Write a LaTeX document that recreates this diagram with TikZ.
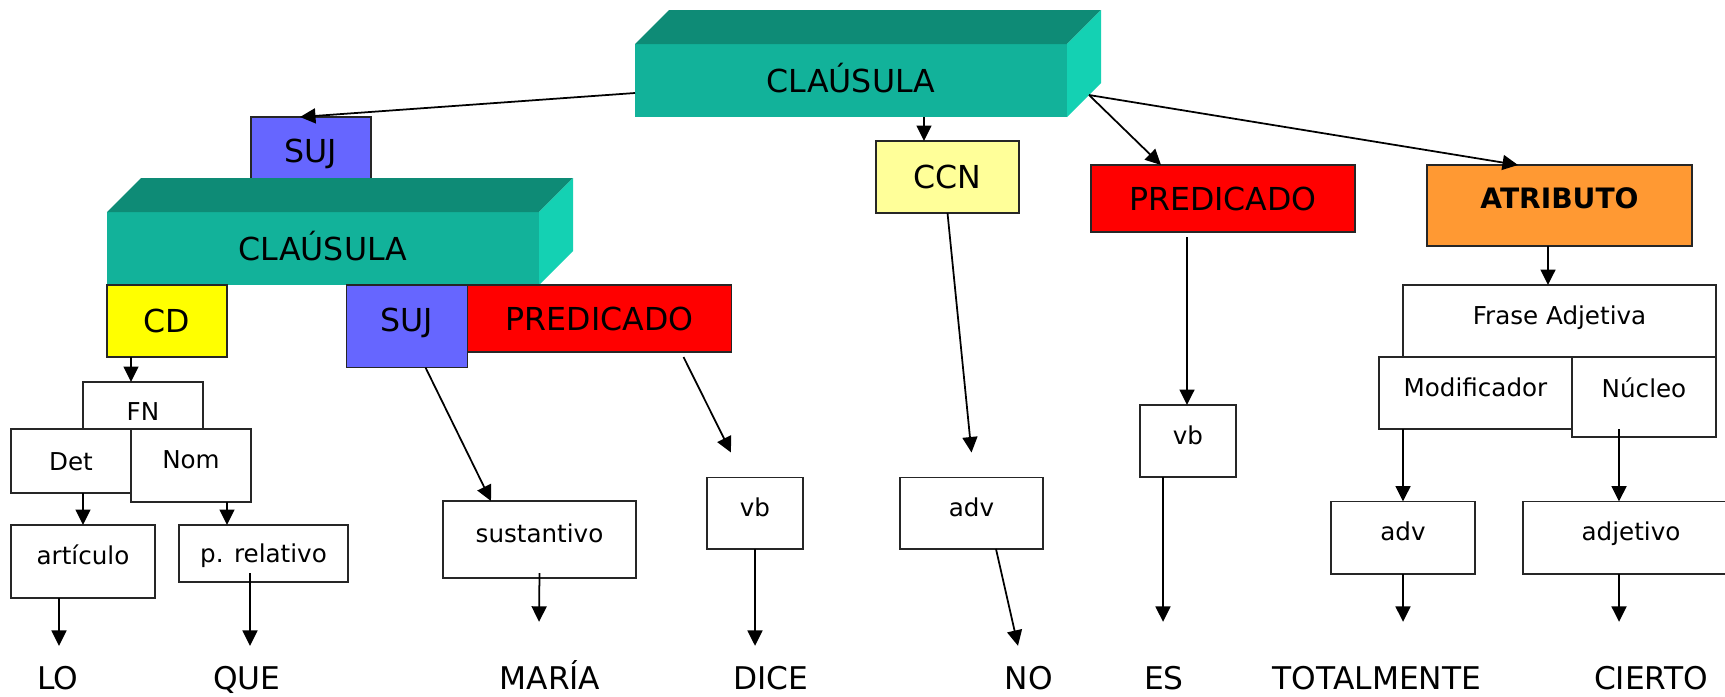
\documentclass[tikz,border=0pt]{standalone}
\usepackage{fontspec}
\setmainfont{DejaVu Sans}
\usetikzlibrary{arrows.meta,calc}
\definecolor{tealfrente}{RGB}{18,178,154}
\definecolor{tealtapa}{RGB}{14,139,118}
\definecolor{teallado}{RGB}{20,209,179}
\definecolor{azulsuj}{RGB}{102,102,255}
\definecolor{amarillocd}{RGB}{255,255,0}
\definecolor{amarilloccn}{RGB}{255,255,153}
\definecolor{naranja}{RGB}{255,153,51}
\tikzset{
  tam/.style 2 args={minimum width=#1, minimum height=#2},
  grande/.style={font=\fontsize{18}{20}\selectfont, text height=13.1pt, text depth=0pt},
  chica/.style={font=\fontsize{14}{16}\selectfont, text height=10.5pt, text depth=0pt},
  arriba/.style={text depth=7pt},
  caja/.style={draw=black!85, line width=0.9pt, inner sep=0pt, outer sep=0pt},
  kbloque/.style={fill=tealfrente, inner sep=0pt, outer sep=0pt, grande},
  ksuj/.style={caja, grande, fill=azulsuj},
  kpred/.style={caja, grande, fill=red},
  kcd/.style={caja, grande, fill=amarillocd},
  kccn/.style={caja, grande, fill=amarilloccn},
  katrib/.style={caja, fill=naranja, font=\fontsize{16}{18}\selectfont\bfseries, text height=11.7pt, text depth=8.3pt},
  kcat/.style={caja, chica, fill=white},
  kpalabra/.style={font=\fontsize{17.8}{20}\selectfont, inner sep=0pt, anchor=base, text height=13pt},
  flujo/.style={-{Triangle[length=3.1mm, width=3mm]}, line width=1pt},
}
% tapa y costado de un bloque en relieve
\newcommand{\prisma}[1]{%
  \fill[tealtapa] (#1.north west) -- ++(34,-34) -- ($(#1.north east)+(34,-34)$) -- (#1.north east) -- cycle;
  \fill[teallado] (#1.north east) -- ++(34,-34) -- ($(#1.south east)+(34,-34)$) -- (#1.south east) -- cycle;
}

\begin{document}
\begin{tikzpicture}[x=0.2mm, y=-0.2mm]
    \useasboundingbox (0,0) rectangle (1725,696);
    \clip (0,0) rectangle (1725,696);
    % clausula principal
    \node[kbloque, tam={86.4mm}{14.6mm}] (clau1) at (851,80.5) {CLAÚSULA};
    \prisma{clau1}
    \node[ksuj, tam={24mm}{13.6mm}] (suj1) at (311,151) {SUJ};
    \node[kccn, tam={28.6mm}{14.4mm}] (ccn) at (947.5,177) {CCN};
    \node[kpred, tam={52.8mm}{13.4mm}] (pred1) at (1223,198.5) {PREDICADO};
    \node[katrib, tam={53mm}{16.2mm}] (atrib) at (1559.5,205.5) {ATRIBUTO};
    % clausula subordinada
    \node[kbloque, tam={86.4mm}{14.6mm}] (clau2) at (323,248.5) {CLAÚSULA};
    \prisma{clau2}
    \node[kcd, tam={24mm}{14.4mm}] (cd) at (167,321) {CD};
    \node[ksuj, tam={24.2mm}{16.5mm}, text depth=7.4pt] (suj2) at (407,326.25) {SUJ};
    \node[kpred, tam={52.8mm}{13.4mm}] (pred2) at (599.5,318.5) {PREDICADO};
    % categorias
    \node[kcat, tam={24mm}{11.8mm}] (fn) at (143,411.5) {FN};
    \node[kcat, tam={24mm}{12.8mm}] (det) at (71,461) {Det};
    \node[kcat, arriba, tam={24mm}{14.6mm}] (nom) at (191,465.5) {Nom};
    \node[kcat, arriba, tam={28.8mm}{14.6mm}] (art) at (83,561.5) {artículo};
    \node[kcat, tam={33.8mm}{11.4mm}] (prel) at (263.5,553.5) {p. relativo};
    \node[kcat, arriba, tam={38.6mm}{15.4mm}] (sust) at (539.5,539.5) {sustantivo};
    \node[kcat, arriba, tam={19.2mm}{14.3mm}] (vb1) at (755,513.25) {vb};
    \node[kcat, arriba, tam={28.6mm}{14.3mm}] (adv1) at (971.5,513.25) {adv};
    \node[kcat, arriba, tam={19.2mm}{14.4mm}] (vb2) at (1188,441) {vb};
    \node[kcat, arriba, tam={62.6mm}{14.4mm}] (frase) at (1559.5,321) {Frase Adjetiva};
    \node[kcat, arriba, tam={38.6mm}{14.4mm}] (modif) at (1475.5,393) {Modificador};
    \node[kcat, text depth=10.5pt, tam={28.8mm}{16mm}] (nucleo) at (1644,397) {Núcleo};
    \node[kcat, arriba, tam={28.8mm}{14.5mm}] (adv2) at (1403,537.75) {adv};
    \node[kcat, arriba, tam={43.2mm}{14.5mm}] (adj) at (1631,537.75) {adjetivo};
    % palabras
    \node[kpalabra] (lo) at (58,689) {LO};
    \node[kpalabra] (que) at (247,689) {QUE};
    \node[kpalabra] (maria) at (550,689) {MARÍA};
    \node[kpalabra] (dice) at (771,689) {DICE};
    \node[kpalabra] (no) at (1029,689) {NO};
    \node[kpalabra] (es) at (1164,689) {ES};
    \node[kpalabra] (total) at (1377,689) {TOTALMENTE};
    \node[kpalabra] (cierto) at (1651,689) {CIERTO};
    % flechas
    \draw[flujo] ($(clau1.west)+(0,12.5)$) -- ($(suj1.north)+(-11,0)$);
    \draw[flujo] ($(clau1.south west)+(289,0)$) -- ($(ccn.north west)+(48,0)$);
    \draw[flujo] ($(clau1.south east)+(22,-22)$) -- ($(pred1.north west)+(70,0)$);
    \draw[flujo] ($(clau1.south east)+(22,-22)$) -- ($(atrib.north west)+(91,0)$);
    \draw[flujo] ($(cd.south west)+(24,0)$) -- ($(fn.north west)+(48,0)$);
    \draw[flujo] ($(det.south west)+(72,0)$) -- ($(art.north west)+(72,0)$);
    \draw[flujo] ($(nom.south west)+(96,0)$) -- ($(prel.north west)+(48,0)$);
    \draw[flujo] ($(art.south west)+(48,0)$) -- ($(lo.north)+(1,-20)$);
    \draw[flujo] ($(prel.south west)+(71,-9)$) -- ($(que.north)+(3,-20)$);
    \draw[flujo] ($(suj2.south west)+(79,0)$) -- ($(sust.north west)+(48,0)$);
    \draw[flujo] ($(pred2.south west)+(216,5)$) -- ($(vb1.north west)+(24,-25)$);
    \draw[flujo] ($(sust.south)+(0,-5)$) -- ($(maria.north)+(-11,-44)$);
    \draw[flujo] (vb1.south) -- ($(dice.north)+(-16,-20)$);
    \draw[flujo] (ccn.south) -- ($(adv1.north)+(0,-25)$);
    \draw[flujo] ($(adv1.south west)+(96,0)$) -- ($(no.north)+(-11,-20)$);
    \draw[flujo] ($(pred1.south west)+(96,5)$) -- ($(vb2.north)+(-1,0)$);
    \draw[flujo] ($(vb2.south west)+(23,0)$) -- ($(es.north)+(-1,-44)$);
    \draw[flujo] ($(atrib.south west)+(121,0)$) -- ($(frase.north west)+(145,0)$);
    \draw[flujo] ($(modif.south west)+(24,0)$) -- (adv2.north);
    \draw[flujo] ($(nucleo.south west)+(47,-8)$) -- ($(adj.north west)+(96,0)$);
    \draw[flujo] (adv2.south) -- ($(total.north)+(26,-44)$);
    \draw[flujo] ($(adj.south west)+(96,0)$) -- ($(cierto.north)+(-32,-44)$);
\end{tikzpicture}
\end{document}
